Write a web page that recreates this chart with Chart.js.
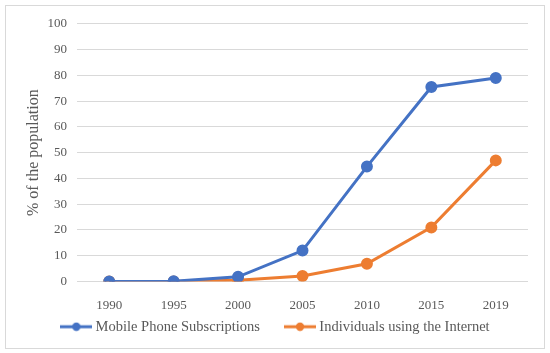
<!DOCTYPE html>
<html lang="en">
<head>
    <meta charset="UTF-8">
    <title>Mobile and internet</title>
    <style>
        body { margin: 0; background: #fff; }
        #box { position: absolute; left: 5px; top: 5px; width: 538px; height: 342px; border: 1px solid #d9d9d9; }
    </style>
</head>
<body>
    <div id="box"><canvas id="myChart" width="538" height="342"></canvas></div>

    <script src="https://cdn.jsdelivr.net/npm/chart.js@4.4.1/dist/chart.umd.min.js"></script>
    <script type="text/javascript">
    const years = ["1990", "1995", "2000", "2005", "2010", "2015", "2019"];
    const mobile = [0, 0.1, 1.8, 12, 44.6, 75.5, 79];
    const internet = [0, 0, 0.5, 2.1, 6.9, 21, 47];
    const yTicks = [0, 10, 20, 30, 40, 50, 60, 70, 80, 90, 100];

    const blue = '#4472C4';
    const orange = '#ED7D31';
    const grey = '#595959';

    // little line + dot marker for the legend, like the excel one
    function marker(color) {
        const c = document.createElement('canvas');
        c.width = 32; c.height = 10;
        const g = c.getContext('2d');
        g.strokeStyle = color; g.lineWidth = 3;
        g.beginPath(); g.moveTo(0, 5); g.lineTo(32, 5); g.stroke();
        g.fillStyle = color;
        g.beginPath(); g.arc(16, 5, 4.2, 0, Math.PI * 2); g.fill();
        return c;
    }

    Chart.defaults.font.family = '"Liberation Serif", "Times New Roman", serif';
    Chart.defaults.color = grey;

    var ctx = document.getElementById('myChart').getContext('2d');
    var chart = new Chart(ctx, {
        type: 'line',
        data: {
            labels: years,
            datasets: [{
                label: 'Mobile Phone Subscriptions',
                data: mobile,
                borderColor: blue,
                backgroundColor: blue,
                borderWidth: 3,
                pointRadius: 4.5,
                pointStyle: 'circle',
                legendMarker: marker(blue)
            }, {
                label: 'Individuals using the Internet',
                data: internet,
                borderColor: orange,
                backgroundColor: orange,
                borderWidth: 3,
                pointRadius: 4.5,
                pointStyle: 'circle',
                legendMarker: marker(orange)
            }]
        },
        options: {
            responsive: false,
            animation: false,
            layout: { padding: { top: 15, bottom: 4, left: 4, right: 0 } },
            plugins: {
                tooltip: { enabled: false },
                legend: {
                    position: 'bottom',
                    labels: {
                        usePointStyle: true,
                        pointStyleWidth: 24,
                        padding: 10,
                        color: grey,
                        font: { size: 14.5 },
                        generateLabels: function (ch) {
                            return ch.data.datasets.map((ds, i) => ({
                                // trailing spaces keep the gap between the two items
                                text: i === 0 ? ds.label + '     ' : ds.label,
                                pointStyle: ds.legendMarker,
                                fillStyle: ds.borderColor,
                                strokeStyle: ds.borderColor,
                                lineWidth: 0,
                                fontColor: grey,
                                hidden: false,
                                datasetIndex: i
                            }));
                        }
                    }
                }
            },
            scales: {
                x: {
                    offset: true,
                    grid: { display: false },
                    border: { display: false },
                    ticks: { padding: 8, font: { size: 13 }, color: grey },
                    afterFit: s => { s.height = 28; }
                },
                y: {
                    min: 0,
                    max: 100,
                    afterBuildTicks: s => { s.ticks = yTicks.map(v => ({ value: v })); },
                    grid: { color: '#d9d9d9', lineWidth: 1, drawTicks: false },
                    border: { display: false },
                    ticks: { padding: 10, font: { size: 13 }, color: grey },
                    title: { display: true, text: '% of the population', font: { size: 16 }, color: grey, padding: 14 },
                    afterFit: s => { s.width = 67; }
                },
                y2: {
                    position: 'right',
                    grid: { display: false },
                    border: { display: false },
                    ticks: { display: false },
                    afterFit: s => { s.width = 16; }
                }
            }
        }
    });
    </script>
</body>
</html>
